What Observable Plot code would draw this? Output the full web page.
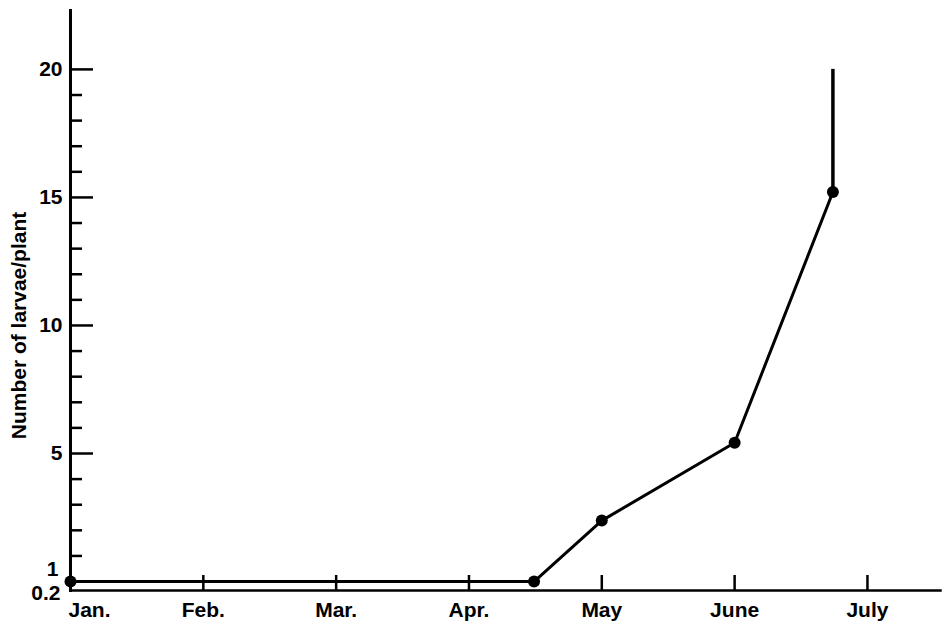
<!DOCTYPE html>
<html><head><meta charset="utf-8">
<script src="https://cdn.jsdelivr.net/npm/d3@7"></script>
<script src="https://cdn.jsdelivr.net/npm/@observablehq/plot@0.6"></script>
<style>body{margin:0;background:#fff;}</style>
</head><body><div id="chart"></div>
<script>
// Month axis (index 0 = Jan.)
const monthLabels = ["Jan.", "Feb.", "Mar.", "Apr.", "May", "June", "July"];
const monthTicks = [0, 1, 2, 3, 4, 5, 6];
// Samples: position in months since Jan 1, number of larvae per plant, upper error
const sampleMonth = [0, 3.49, 4, 5, 5.74];
const larvae = [0, 0, 2.38, 5.42, 15.21];
const larvaeUpper = [null, null, null, null, 20];
// Y axis ticks
const yMajorTicks = [5, 10, 15, 20];
const yMinorTicks = [1, 2, 3, 4, 6, 7, 8, 9, 11, 12, 13, 14, 16, 17, 18, 19];
const yLowLabelOne = [1];
const yLowLabelMin = [0.2];
const yTitle = "Number of larvae/plant";

const samples = sampleMonth.map((m, i) => ({month: m, larvae: larvae[i], upper: larvaeUpper[i]}));
const errors = samples.filter(d => d.upper != null);

const font = "'Liberation Sans', Arial, Helvetica, sans-serif";

const chart = Plot.plot({
  width: 943,
  height: 629,
  marginLeft: 70,
  marginRight: 3,
  marginTop: 10,
  marginBottom: 39,
  style: {fontFamily: font, fontSize: "21px", fontWeight: "bold", color: "#000", background: "#fff"},
  x: {type: "linear", domain: [0, 6.55], label: null},
  y: {type: "linear", domain: [-0.35, 22.3], label: null},
  marks: [
    // axis lines
    Plot.frame({anchor: "left", stroke: "#000", strokeWidth: 3}),
    Plot.frame({anchor: "bottom", stroke: "#000", strokeWidth: 2.5}),
    // y ticks (inward)
    Plot.axisY(yMinorTicks, {tickSize: -12, strokeWidth: 2.5, tickFormat: () => "", label: null}),
    Plot.axisY(yMajorTicks, {tickSize: -23, strokeWidth: 2.5, tickFormat: () => "", label: null}),
    Plot.axisY(yMajorTicks, {tickSize: 0, tickPadding: 8, tickFormat: d => String(d), label: null}),
    Plot.axisY(yLowLabelOne, {tickSize: 0, tickPadding: 12, dy: 13, tickFormat: d => String(d), label: null}),
    Plot.axisY(yLowLabelMin, {tickSize: 0, tickPadding: 10, dy: 17, tickFormat: d => String(d), label: null}),
    // x ticks (upward) and labels
    Plot.axisX(monthTicks, {tickSize: -15, strokeWidth: 2.5, tickFormat: () => "", label: null}),
    Plot.axisX(monthTicks.slice(1), {tickSize: 0, tickPadding: 12, tickFormat: i => monthLabels[i], label: null}),
    Plot.axisX(monthTicks.slice(0, 1), {tickSize: 0, tickPadding: 12, textAnchor: "start", dx: -2, tickFormat: i => monthLabels[i], label: null}),
    // y title
    Plot.text([yTitle], {frameAnchor: "left", rotate: -90, dx: -51, dy: 25, textAnchor: "middle", lineAnchor: "middle", fill: "#000"}),
    // data
    Plot.ruleX(errors, {x: "month", y1: "larvae", y2: "upper", stroke: "#000", strokeWidth: 3.5}),
    Plot.line(samples, {x: "month", y: "larvae", stroke: "#000", strokeWidth: 3}),
    Plot.dot(samples, {x: "month", y: "larvae", r: 6, fill: "#000", stroke: "none"})
  ]
});
document.getElementById("chart").appendChild(chart);
</script>
</body></html>
